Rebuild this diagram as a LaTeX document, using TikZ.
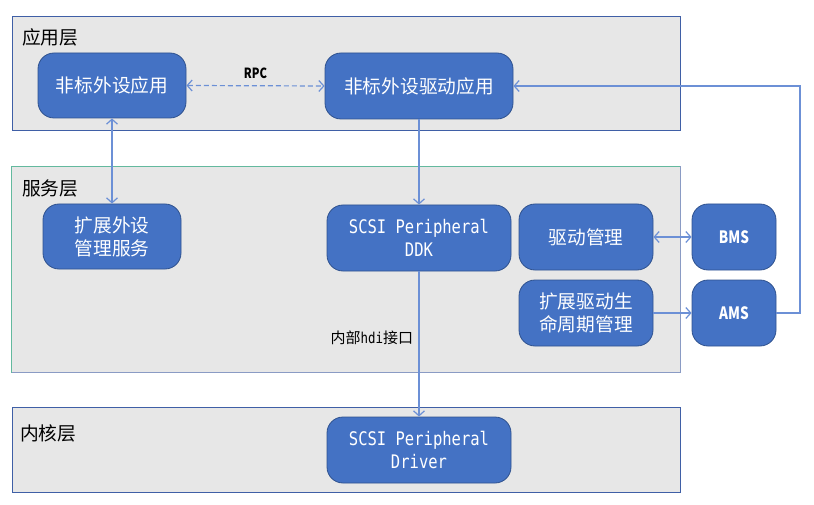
\documentclass[tikz,border=0pt]{standalone}
\usepackage{fontspec}
\setmainfont{Noto Sans CJK SC}
\newfontfamily\latinmono[FakeStretch=0.83]{DejaVu Sans Mono}
\newfontfamily\latinnarrow[FakeStretch=0.8]{Noto Sans CJK SC}
\usetikzlibrary{arrows.meta}

\newlength{\du}
\setlength{\du}{1pt}

\definecolor{layerfill}{HTML}{E7E7E7}
\definecolor{layerblue}{HTML}{3F5FA6}
\definecolor{layergreen}{HTML}{63B99E}
\definecolor{layergrey}{HTML}{8A9BC4}
\definecolor{boxfill}{HTML}{4472C4}
\definecolor{boxline}{HTML}{2F528F}
\definecolor{linkcolor}{HTML}{6C90D6}

\tikzset{
  layer/.style={rectangle, fill=layerfill, draw=layerblue, line width=1\du, inner sep=0pt},
  layertitle/.style={anchor=west, inner sep=0pt, font=\fontsize{18.7}{22}\selectfont},
  blockbox/.style={rectangle, rounded corners=16\du, fill=boxfill, draw=boxline,
    line width=0.8\du, text=white, align=center, inner sep=0pt,
    font=\fontsize{18.7}{23}\selectfont},
  shortname/.style={font=\latinnarrow\bfseries\fontsize{17}{20}\selectfont},
  link/.style={draw=linkcolor, line width=1.2\du, -{Straight Barb[length=5pt,width=11pt]}},
  linkboth/.style={link, {Straight Barb[length=5pt,width=11pt]}-{Straight Barb[length=5pt,width=11pt]}},
}

\begin{document}
\begin{tikzpicture}[yscale=-1]
\useasboundingbox (0\du,0\du) rectangle (814\du,505\du);

% layers
\node[layer, minimum width=668\du, minimum height=114\du] (applayer) at (346\du,74\du){};
\node[layer, draw=none, minimum width=668\du, minimum height=205\du] (svclayer) at (346\du,269.5\du){};
\draw[layergreen, line width=1\du] (svclayer.south west) -- (svclayer.north west) -- (svclayer.north east);
\draw[layergrey, line width=1\du] (svclayer.north east) -- (svclayer.south east) -- (svclayer.south west);
\node[layer, minimum width=668\du, minimum height=85\du] (kernlayer) at (346\du,449.5\du){};

\node[layertitle] (apptitle) at (22\du,37\du){应用层};
\node[layertitle] (svctitle) at (22\du,188\du){服务层};
\node[layertitle] (kerntitle) at (20\du,433\du){内核层};

% boxes
\node[blockbox, minimum width=148\du, minimum height=65\du] (app) at (112\du,85.5\du){非标外设应用};
\node[blockbox, minimum width=188\du, minimum height=66\du] (drvapp) at (419\du,86\du){非标外设驱动应用};
\node[blockbox, minimum width=138\du, minimum height=65\du] (extsvc) at (112\du,236.5\du){扩展外设\\管理服务};
\node[blockbox, minimum width=184\du, minimum height=66\du] (ddk) at (419\du,238\du){\latinmono SCSI Peripheral\\\latinmono DDK};
\node[blockbox, minimum width=134\du, minimum height=66\du] (drvmgr) at (586\du,237\du){驱动管理};
\node[blockbox, shortname, minimum width=84\du, minimum height=66\du] (bms) at (734\du,237\du){BMS};
\node[blockbox, minimum width=134\du, minimum height=66\du] (lifecycle) at (586\du,313\du){扩展驱动生\\命周期管理};
\node[blockbox, shortname, minimum width=84\du, minimum height=66\du] (ams) at (734\du,313\du){AMS};
\node[blockbox, minimum width=184\du, minimum height=66\du] (driver) at (419\du,450\du){\latinmono SCSI Peripheral\\\latinmono Driver};

% connectors
\draw[linkboth, dash pattern=on 5pt off 3pt] (app.east) -- (drvapp.west)
  node[midway, above=3\du, font=\latinnarrow\bfseries\fontsize{14}{16}\selectfont] (rpc){RPC};
\draw[linkboth] (app.south) -- (extsvc.north);
\draw[link] (drvapp.south) -- (ddk.north);
\draw[link] (ddk.south) -- (driver.north)
  node[pos=0.46, left=2\du, font=\fontsize{15}{18}\selectfont] (hdi){内部{\latinmono hdi}接口};
\draw[linkboth] (drvmgr.east) -- (bms.west);
\draw[link] (lifecycle.east) -- (ams.west);
\coordinate (turn) at (800\du,313\du);
\draw[link] (ams.east) -- (turn) |- (drvapp.east);
\end{tikzpicture}
\end{document}
